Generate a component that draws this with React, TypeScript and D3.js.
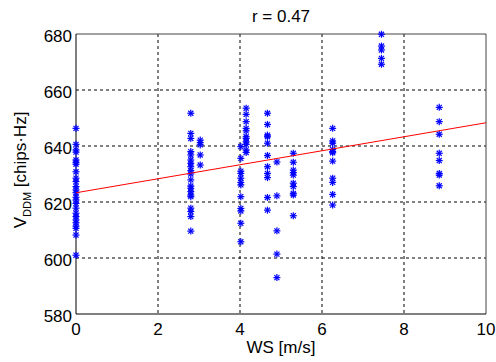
import React from "react";
import * as d3 from "d3";

// Data columns (wind speed) and the VDDM values read at each
const v0 = [646.3, 640.6, 638.6, 637.8, 635, 634.2, 633.5, 630.8, 628.5, 627.3, 625.5, 624.3, 623.3, 621.7, 620.7, 619.5, 617.8, 616, 614.8, 613.6, 612.6, 611.4, 610.6, 608.2, 601];
const v28 = [651.7, 644.5, 642.7, 638, 636.8, 635, 633.8, 632.6, 631.2, 630, 627.9, 625.7, 624.9, 623.7, 622.5, 621.9, 617.8, 616.6, 614.8, 609.6];
const v30 = [642.1, 641.2, 640.4, 636.8, 633.2];
const v402 = [639.8, 635.6, 631, 630.2, 628.5, 627, 626.1, 621.9, 617.7, 616.8, 612.4, 605.8];
const v415 = [653.5, 651.3, 648.7, 646.3, 645.4, 643.3, 642.7, 641.5, 640.6, 638.6, 637.7];
const v467 = [651.7, 647.7, 643.9, 643.3, 641, 636.6, 632.6, 630.2, 628.7, 621.6, 617.1];
const v49 = [634.3, 622.2, 609.7, 601.4, 593];
const v53 = [637.4, 634.2, 631.4, 630.5, 629.6, 626.7, 625.5, 623.1, 622.5, 615.1];
const v626 = [646.3, 641.8, 641, 638.8, 638, 637.6, 634.6, 628.5, 627, 622.7, 618.9];
const v745 = [679.9, 675.7, 674.3, 671.3, 669.2];
const v886 = [653.8, 648.7, 644.2, 637.4, 634.8, 630.2, 629.6, 625.8];

const wsValues = [0.0, 2.8, 3.03, 4.02, 4.15, 4.67, 4.9, 5.3, 6.26, 7.45, 8.86];
const vddmColumns = [v0, v28, v30, v402, v415, v467, v49, v53, v626, v745, v886];

const fitX = [0, 10];
const fitY = [623.3, 648.3];

const xTicks = [0, 2, 4, 6, 8, 10];
const yTicks = [580, 600, 620, 640, 660, 680];
const title = "r = 0.47";
const xLabel = "WS [m/s]";

export default function App() {
  const left = 76, right = 486, top = 34, bottom = 314;
  const x = d3.scaleLinear().domain([0, 10]).range([left, right]);
  const y = d3.scaleLinear().domain([580, 680]).range([bottom, top]);
  const font = "'Liberation Sans', Arial, sans-serif";
  const fs = 17;
  const pts: { x: number; y: number }[] = [];
  wsValues.forEach((w, i) => vddmColumns[i].forEach((v) => pts.push({ x: w, y: v })));
  const s = 3.5;
  const d = s * 0.72;
  const line = d3.line<number>().x((_, i) => x(fitX[i])).y((v) => y(v));
  return (
    <svg width={496} height={362} style={{ position: "absolute", left: 0, top: 0, background: "#fff" }}>
      <rect x={0} y={0} width={496} height={362} fill="#fff" />
      {xTicks.slice(1, -1).map((t) => (
        <line key={"gx" + t} x1={x(t)} x2={x(t)} y1={top} y2={bottom} stroke="#000" strokeWidth={1} strokeDasharray="3,3" />
      ))}
      {yTicks.slice(1, -1).map((t) => (
        <line key={"gy" + t} x1={left} x2={right} y1={y(t)} y2={y(t)} stroke="#000" strokeWidth={1} strokeDasharray="3,3" />
      ))}
      <line x1={left} x2={right} y1={top} y2={top} stroke="#444" />
      <line x1={right} x2={right} y1={top} y2={bottom} stroke="#444" />
      <line x1={left} x2={right} y1={bottom} y2={bottom} stroke="#000" />
      <line x1={left} x2={left} y1={top} y2={bottom} stroke="#000" />
      {pts.map((p, i) => {
        const cx = x(p.x), cy = y(p.y);
        return (
          <g key={i} stroke="#0000ff" strokeWidth={1.2}>
            <line x1={cx - s} x2={cx + s} y1={cy} y2={cy} />
            <line x1={cx} x2={cx} y1={cy - s} y2={cy + s} />
            <line x1={cx - d} x2={cx + d} y1={cy - d} y2={cy + d} />
            <line x1={cx - d} x2={cx + d} y1={cy + d} y2={cy - d} />
          </g>
        );
      })}
      <path d={line(fitY) || ""} stroke="#ff0000" strokeWidth={1} fill="none" />
      {xTicks.map((t) => (
        <text key={"xt" + t} x={x(t)} y={335} textAnchor="middle" fontFamily={font} fontSize={fs} fill="#000">
          {t}
        </text>
      ))}
      {yTicks.map((t) => (
        <text key={"yt" + t} x={72} y={y(t) + 8} textAnchor="end" fontFamily={font} fontSize={fs} fill="#000">
          {t}
        </text>
      ))}
      <text x={281} y={353} textAnchor="middle" fontFamily={font} fontSize={fs} fill="#000">
        {xLabel}
      </text>
      <text x={281} y={22} textAnchor="middle" fontFamily={font} fontSize={fs} fill="#000">
        {title}
      </text>
      <text transform={`translate(26,170) rotate(-90)`} textAnchor="middle" fontFamily={font} fontSize={fs} fill="#000">
        V<tspan fontSize={11} dy={5}>DDM</tspan>
        <tspan dy={-5}> [chips·Hz]</tspan>
      </text>
    </svg>
  );
}
